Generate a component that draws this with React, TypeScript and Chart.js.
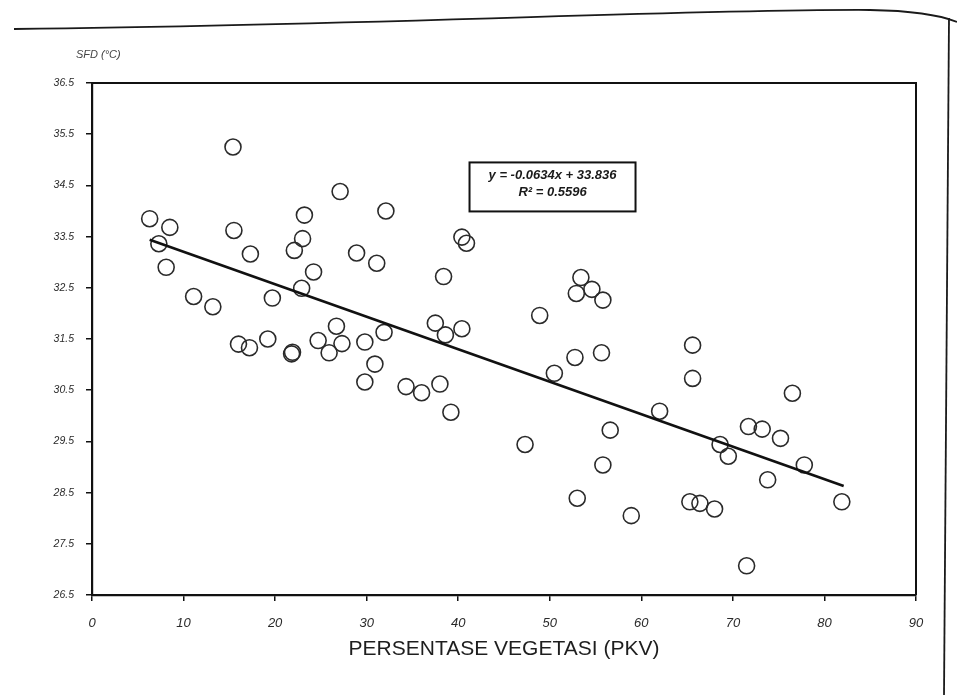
import { useEffect, useRef } from "react";
import { Chart, registerables } from "chart.js";

Chart.register(...registerables);

// Percentage of vegetation (PKV) per observation
const pkv = [
  6.3, 7.3, 8.5, 8.1, 11.1, 13.2, 15.4, 15.5, 16.0, 17.2,
  17.3, 19.2, 19.7, 21.8, 21.9, 22.1, 23.0, 23.2, 22.9, 24.2,
  24.7, 25.9, 26.7, 27.3, 27.1, 28.9, 29.8, 29.8, 31.1, 30.9,
  31.9, 32.1, 34.3, 36.0, 37.5, 38.0, 38.4, 38.6, 39.2, 40.4,
  40.9, 40.4, 47.3, 48.9, 50.5, 52.75, 52.9, 53.0, 53.4, 54.6,
  55.65, 55.8, 55.8, 56.6, 58.9, 62.0, 65.3, 65.6, 65.6, 66.4,
  68.0, 68.6, 69.5, 71.5, 71.7, 73.2, 73.8, 75.2, 76.5, 77.8,
  81.9,
];

// Surface temperature SFD (°C) per observation
const sfd = [
  33.85, 33.36, 33.68, 32.9, 32.33, 32.13, 35.25, 33.62, 31.4, 31.33,
  33.16, 31.5, 32.3, 31.21, 31.24, 33.23, 33.46, 33.92, 32.49, 32.81,
  31.47, 31.23, 31.75, 31.41, 34.38, 33.18, 31.44, 30.66, 32.98, 31.01,
  31.63, 34.0, 30.57, 30.45, 31.81, 30.62, 32.72, 31.58, 30.07, 33.49,
  33.37, 31.7, 29.44, 31.96, 30.83, 31.14, 32.39, 28.39, 32.7, 32.47,
  31.23, 32.26, 29.04, 29.72, 28.05, 30.09, 28.32, 31.38, 30.73, 28.29,
  28.18, 29.44, 29.21, 27.07, 29.79, 29.74, 28.75, 29.56, 30.44, 29.04,
  28.32,
];

const xTicks = [0, 10, 20, 30, 40, 50, 60, 70, 80, 90];
const yTicks = [26.5, 27.5, 28.5, 29.5, 30.5, 31.5, 32.5, 33.5, 34.5, 35.5, 36.5];

// Linear trendline shown on the chart
const slope = -0.0634;
const intercept = 33.836;
const trendX = [6.3, 82.1];
const eqLines = ["y = -0.0634x + 33.836", "R² = 0.5596"];
const eqAnchor = [50.3, 34.47];

const yAxisTitle = "SFD (°C)";
const xAxisTitle = "PERSENTASE VEGETASI (PKV)";

const TICK_FONT = '"Liberation Sans", Arial, sans-serif';

const decorPlugin = {
  id: "decor",
  beforeDraw(chart: any) {
    const { ctx, width, height } = chart;
    ctx.save();
    ctx.fillStyle = "#ffffff";
    ctx.fillRect(0, 0, width, height);
    // page frame of the scanned figure
    ctx.strokeStyle = "#1a1a1a";
    ctx.lineWidth = 1.8;
    ctx.beginPath();
    ctx.moveTo(14, 29);
    ctx.bezierCurveTo(400, 25, 680, 9, 870, 10);
    ctx.quadraticCurveTo(930, 11, 957, 22);
    ctx.stroke();
    ctx.beginPath();
    ctx.moveTo(949, 18);
    ctx.lineTo(944, 695);
    ctx.stroke();
    ctx.restore();
  },
  afterDatasetsDraw(chart: any) {
    const { ctx, chartArea } = chart;
    const { left, top, right, bottom } = chartArea;
    ctx.save();
    // top & right border of plot box
    ctx.strokeStyle = "#111";
    ctx.lineWidth = 2;
    ctx.beginPath();
    ctx.moveTo(left, top);
    ctx.lineTo(right, top);
    ctx.lineTo(right, bottom);
    ctx.stroke();

    // y axis title
    ctx.fillStyle = "#444";
    ctx.font = `italic 11px ${TICK_FONT}`;
    ctx.textAlign = "left";
    ctx.textBaseline = "middle";
    ctx.fillText(yAxisTitle, 76, 55);

    // equation box
    const sx = chart.scales.x;
    const sy = chart.scales.y;
    const cx = sx.getPixelForValue(eqAnchor[0]);
    const cy = sy.getPixelForValue(eqAnchor[1]);
    const bw = 166;
    const bh = 49;
    ctx.fillStyle = "#fff";
    ctx.fillRect(cx - bw / 2, cy - bh / 2, bw, bh);
    ctx.strokeStyle = "#111";
    ctx.lineWidth = 2;
    ctx.strokeRect(cx - bw / 2, cy - bh / 2, bw, bh);
    ctx.fillStyle = "#1a1a1a";
    ctx.font = `italic bold 13px ${TICK_FONT}`;
    ctx.textAlign = "center";
    ctx.fillText(eqLines[0], cx, cy - 12);
    ctx.fillText(eqLines[1], cx, cy + 5);
    ctx.restore();
  },
};

export default function App() {
  const canvasRef = useRef<HTMLCanvasElement | null>(null);

  useEffect(() => {
    if (!canvasRef.current) return;
    const points = pkv.map((x, i) => ({ x, y: sfd[i] }));
    const trend = trendX.map((x) => ({ x, y: intercept + slope * x }));

    const chart = new Chart(canvasRef.current, {
      type: "scatter",
      data: {
        datasets: [
          {
            type: "line",
            label: "Trend",
            data: trend,
            borderColor: "#111",
            borderWidth: 2.6,
            pointRadius: 0,
            fill: false,
            order: 0,
          } as any,
          {
            label: "SFD",
            data: points,
            pointRadius: 8,
            pointHoverRadius: 8,
            pointBorderWidth: 1.6,
            pointBorderColor: "#2a2a2a",
            pointBackgroundColor: "rgba(0,0,0,0)",
            order: 1,
          },
        ],
      },
      options: {
        responsive: false,
        animation: false,
        layout: { padding: { left: 0, top: 83, right: 41, bottom: 0 } },
        plugins: {
          legend: { display: false },
          tooltip: { enabled: false },
          title: { display: false },
        },
        scales: {
          x: {
            type: "linear",
            min: 0,
            max: 90,
            afterBuildTicks: (scale: any) => {
              scale.ticks = xTicks.map((v) => ({ value: v }));
            },
            afterFit: (scale: any) => {
              scale.height = 100;
            },
            grid: {
              display: true,
              drawOnChartArea: false,
              drawTicks: true,
              tickLength: 6,
              color: "#111",
              lineWidth: 1.5,
            },
            border: { display: true, color: "#111", width: 2.2 },
            ticks: {
              padding: 15,
              color: "#2a2a2a",
              font: { family: TICK_FONT, size: 13, style: "italic" },
              maxRotation: 0,
            },
            title: {
              display: true,
              text: xAxisTitle,
              color: "#1e1e1e",
              font: { family: TICK_FONT, size: 21 },
              padding: { top: 0, bottom: 33 },
            },
          },
          y: {
            type: "linear",
            min: 26.5,
            max: 36.5,
            afterBuildTicks: (scale: any) => {
              scale.ticks = yTicks.map((v) => ({ value: v }));
            },
            afterFit: (scale: any) => {
              scale.width = 92;
            },
            grid: {
              display: true,
              drawOnChartArea: false,
              drawTicks: true,
              tickLength: 6,
              color: "#111",
              lineWidth: 1.5,
            },
            border: { display: true, color: "#111", width: 2.2 },
            ticks: {
              padding: 12,
              color: "#2a2a2a",
              font: { family: TICK_FONT, size: 10.5, style: "italic" },
              callback: (v: any) => Number(v).toFixed(1),
            },
          },
        },
      },
      plugins: [decorPlugin],
    });

    return () => chart.destroy();
  }, []);

  return (
    <div style={{ position: "fixed", left: 0, top: 0, width: 957, height: 695, background: "#fff" }}>
      <canvas ref={canvasRef} width={957} height={695} />
    </div>
  );
}
